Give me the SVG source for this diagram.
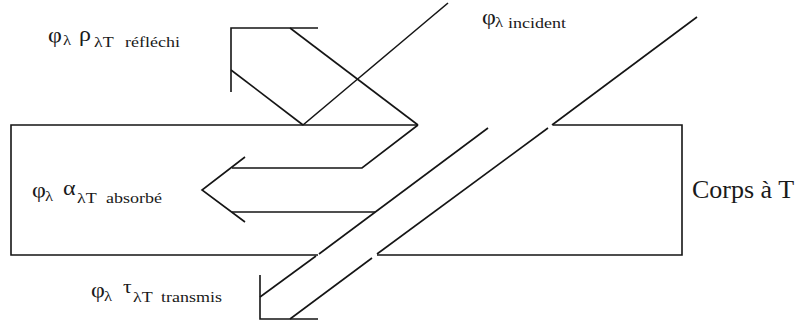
<svg xmlns="http://www.w3.org/2000/svg" width="798" height="320" viewBox="0 0 798 320">
<style>
.ln{fill:none;stroke:#151515;stroke-width:1.6;stroke-linecap:butt;stroke-linejoin:miter}
</style>
<rect width="798" height="320" fill="#ffffff"/>
<g id="body">
<path class="ln" d="M418,125 H11 V255 H318"/>
<path class="ln" d="M377,255 H682 V125 H553"/>
<text font-family="Liberation Serif" font-size="26" fill="#1a1a1a" x="692" y="198">Corps à T</text>
</g>
<g id="label-reflechi" fill="#1a1a1a" transform="translate(48,0) scale(1.2,1)">
<text font-family="Liberation Serif" font-size="20" x="0" y="42">φ</text>
<text font-family="Liberation Serif" font-size="14" x="12.5" y="45">λ</text>
<text font-family="Liberation Serif" font-size="20" x="25.8" y="41">ρ</text>
<text font-family="Liberation Serif" font-size="15" x="38.3" y="47">λT</text>
<text font-family="Liberation Serif" font-size="15" x="64.2" y="47">réfléchi</text>
</g>
<g id="label-incident" fill="#1a1a1a" transform="translate(482,0) scale(1.2,1)">
<text font-family="Liberation Serif" font-size="20" x="0" y="24">φ</text>
<text font-family="Liberation Serif" font-size="14" x="10.8" y="27">λ</text>
<text font-family="Liberation Serif" font-size="15" x="21.7" y="28">incident</text>
</g>
<g id="label-absorbe" fill="#1a1a1a" transform="translate(32,0) scale(1.2,1)">
<text font-family="Liberation Serif" font-size="20" x="0" y="197">φ</text>
<text font-family="Liberation Serif" font-size="14" x="10.8" y="201">λ</text>
<text font-family="Liberation Serif" font-size="20" x="25.8" y="195">α</text>
<text font-family="Liberation Serif" font-size="15" x="37.5" y="203">λT</text>
<text font-family="Liberation Serif" font-size="15" x="61.7" y="203">absorbé</text>
</g>
<g id="label-transmis" fill="#1a1a1a" transform="translate(91,0) scale(1.2,1)">
<text font-family="Liberation Serif" font-size="20" x="0" y="297">φ</text>
<text font-family="Liberation Serif" font-size="14" x="10.8" y="301">λ</text>
<text font-family="Liberation Serif" font-size="18" x="26.7" y="293">τ</text>
<text font-family="Liberation Serif" font-size="15" x="35" y="302">λT</text>
<text font-family="Liberation Serif" font-size="15" x="58.3" y="302">transmis</text>
</g>
<g id="connectors">
<path class="ln" d="M448,3 L303,125"/>
<path class="ln" d="M697,17 L552,125"/>
<path class="ln" d="M303,125 L231,70"/>
<path class="ln" d="M418,125 L290,28"/>
<path class="ln" d="M231,92 V28 H318"/>
<path class="ln" d="M418,125 L362,168 H232"/>
<path class="ln" d="M245,157 L202,190 L245,222"/>
<path class="ln" d="M232,212 H375"/>
<path class="ln" d="M488,128 L319,254"/>
<path class="ln" d="M316,256 L260,297"/>
<path class="ln" d="M548,128 L377,254"/>
<path class="ln" d="M372,258 L290,319"/>
<path class="ln" d="M260,275 V319 H318"/>
</g>
</svg>
